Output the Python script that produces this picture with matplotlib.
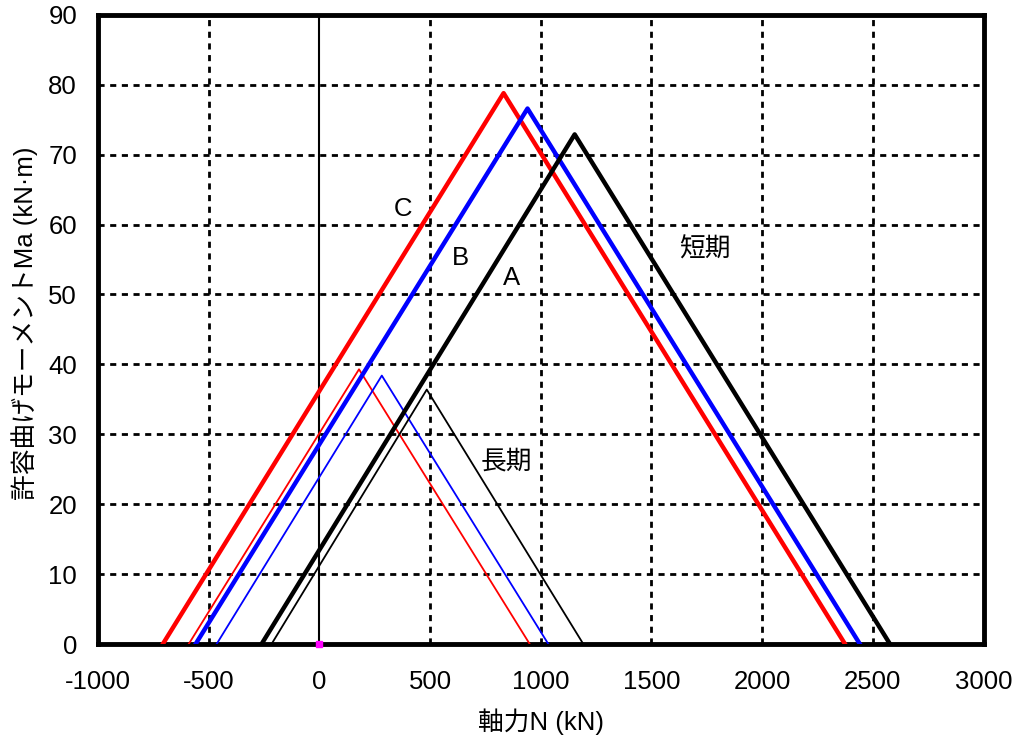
import matplotlib
matplotlib.use("Agg")
import matplotlib.pyplot as plt

plt.rcParams['font.family'] = ['Liberation Sans', 'Noto Sans CJK JP', 'DejaVu Sans']

# Short-term (thick) polylines: N (kN), M (kN·m)
short_A_N = [-261, 1153, 2577]
short_A_M = [0, 72.9, 0]
short_B_N = [-559, 940, 2441]
short_B_M = [0, 76.6, 0]
short_C_N = [-707, 832, 2374]
short_C_M = [0, 78.8, 0]

# Long-term (thin) polylines
long_A_N = [-216, 485, 1192]
long_A_M = [0, 36.4, 0]
long_B_N = [-464, 282, 1034]
long_B_M = [0, 38.4, 0]
long_C_N = [-590, 179, 950]
long_C_M = [0, 39.3, 0]

x_ticks = [-1000, -500, 0, 500, 1000, 1500, 2000, 2500, 3000]
x_tick_labels = ["-1000", "-500", "0", "500", "1000", "1500", "2000", "2500", "3000"]
y_ticks = [0, 10, 20, 30, 40, 50, 60, 70, 80, 90]

FS = 18.5

fig = plt.figure(figsize=(10.13, 7.43), dpi=100)
ax = fig.add_axes([0.0967, 0.1332, 0.8743, 0.8468])

ax.set_xlim(-1000, 3000)
ax.set_ylim(0, 90)
ax.set_xticks(x_ticks)
ax.set_xticklabels(x_tick_labels)
ax.set_yticks(y_ticks)
ax.tick_params(axis='x', length=0, labelsize=FS, pad=19)
ax.tick_params(axis='y', length=0, labelsize=FS, pad=15)

grid_style = dict(color='black', linestyle=(0, (2.2, 2.0)), linewidth=2.0, zorder=1)
for xv in x_ticks[1:-1]:
    if xv != 0:
        ax.axvline(xv, **grid_style)
for yv in y_ticks[1:-1]:
    ax.axhline(yv, **grid_style)

ax.axvline(0, color='black', linewidth=1.5, zorder=2)

ax.plot(long_C_N, long_C_M, color='red', linewidth=1.3, zorder=3)
ax.plot(long_B_N, long_B_M, color='blue', linewidth=1.3, zorder=3)
ax.plot(long_A_N, long_A_M, color='black', linewidth=1.3, zorder=3)
ax.plot(short_C_N, short_C_M, color='red', linewidth=3.2, zorder=4)
ax.plot(short_B_N, short_B_M, color='blue', linewidth=3.2, zorder=4)
ax.plot(short_A_N, short_A_M, color='black', linewidth=3.2, zorder=4)

ax.plot([0], [0], marker='s', color='magenta', markersize=4, zorder=5, clip_on=False)

for s in ax.spines.values():
    s.set_linewidth(3.5)
    s.set_color('black')

ax.text(378, 62.2, "C", fontsize=FS, ha='center', va='center', zorder=6)
ax.text(635, 55.2, "B", fontsize=FS, ha='center', va='center', zorder=6)
ax.text(866, 52.4, "A", fontsize=FS, ha='center', va='center', zorder=6)
ax.text(1740, 56.5, "短期", fontsize=FS, ha='center', va='center', zorder=6)
ax.text(845, 26.1, "長期", fontsize=FS, ha='center', va='center', zorder=6)

ax.set_xlabel("軸力N (kN)", fontsize=FS)
ax.set_ylabel("許容曲げモーメントMa (kN·m)", fontsize=FS)
ax.xaxis.set_label_coords(0.5, -0.124)
ax.xaxis.label.set_va('center')
ax.yaxis.set_label_coords(-0.0824, 0.51)
ax.yaxis.label.set_va('center')

fig.savefig("out.png", dpi=100)
